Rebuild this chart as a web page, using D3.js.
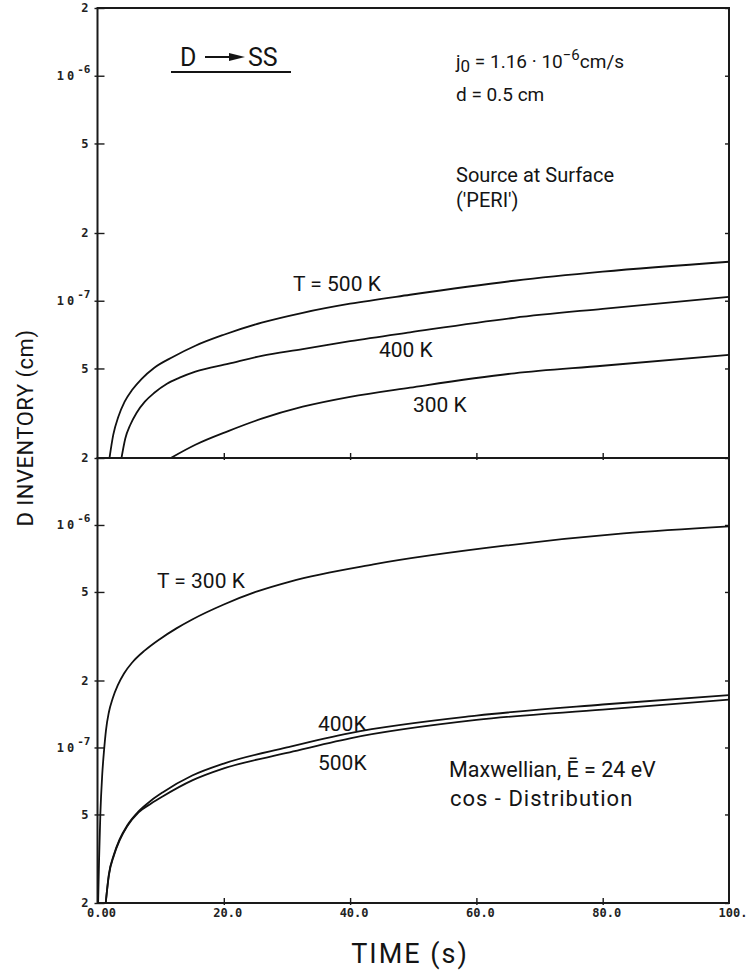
<!DOCTYPE html>
<html>
<head>
<meta charset="utf-8">
<script src="https://cdn.jsdelivr.net/npm/d3@7"></script>
<style>
  body { margin: 0; background: #fff; }
  svg { display: block; }
  .lab { font-family: Roboto, "Liberation Sans", sans-serif; fill: #141414; }
  .tk text { font-family: "DejaVu Sans Mono", monospace; font-weight: bold; font-size: 12px; fill: #222; }
  .tk path { display: none; }
  .tk line { stroke: #1a1a1a; stroke-width: 1.4; }
</style>
</head>
<body>
<svg id="chart"></svg>
<script>
// time axis
const timeTicks = [0, 20, 40, 60, 80, 100];
const timeTickLabels = ['0.00', '20.0', '40.0', '60.0', '80.0', '100.'];
const invTicks = [2e-8, 5e-8, 1e-7, 2e-7, 5e-7, 1e-6, 2e-6];

// upper panel: source at surface ('PERI')
const periTime500 = [1.9, 2.5, 3.3, 4.3, 5.5, 7, 9, 12, 15.5, 20, 26, 32.5, 40, 49.5, 66, 80, 100];
const periInv500 = [2.0e-8, 2.54e-8, 3.05e-8, 3.56e-8, 4.02e-8, 4.50e-8, 5.04e-8, 5.64e-8, 6.31e-8, 7.06e-8, 7.99e-8, 8.84e-8, 9.70e-8, 1.063e-7, 1.227e-7, 1.346e-7, 1.49e-7];
const periTime400 = [3.8, 4.4, 5.2, 6.2, 7.5, 9, 11, 13, 15.5, 20.8, 26, 32.5, 40, 49.5, 66, 80, 100];
const periInv400 = [2.0e-8, 2.44e-8, 2.81e-8, 3.18e-8, 3.56e-8, 3.90e-8, 4.28e-8, 4.55e-8, 4.84e-8, 5.25e-8, 5.69e-8, 6.09e-8, 6.61e-8, 7.24e-8, 8.40e-8, 9.21e-8, 1.04e-7];
const periTime300 = [11.6, 15.5, 20.8, 26, 32.5, 40, 49.5, 66, 80, 100];
const periInv300 = [2.0e-8, 2.29e-8, 2.64e-8, 2.99e-8, 3.38e-8, 3.74e-8, 4.11e-8, 4.76e-8, 5.14e-8, 5.75e-8];

// lower panel: Maxwellian, cos-distribution
const maxTime300 = [0.1, 0.25, 0.45, 0.75, 1.05, 1.35, 1.8, 2.4, 3.2, 4.2, 5.5, 7.5, 9.8, 12.5, 15, 20, 25.3, 30.5, 43.7, 64.8, 83.3, 100];
const maxInv300 = [2.0e-8, 3.14e-8, 5.0e-8, 7.56e-8, 9.8e-8, 1.20e-7, 1.44e-7, 1.66e-7, 1.90e-7, 2.15e-7, 2.41e-7, 2.73e-7, 3.06e-7, 3.43e-7, 3.76e-7, 4.39e-7, 5.03e-7, 5.57e-7, 6.65e-7, 8.09e-7, 9.16e-7, 9.85e-7];
const maxTime400 = [1.3, 1.8, 2.6, 3.5, 4.7, 6.5, 8.5, 10.3, 15, 20, 30, 40, 60, 80, 100];
const maxInv400 = [2.0e-8, 2.69e-8, 3.30e-8, 3.86e-8, 4.46e-8, 5.16e-8, 5.78e-8, 6.28e-8, 7.48e-8, 8.47e-8, 1.0e-7, 1.16e-7, 1.39e-7, 1.56e-7, 1.72e-7];
const maxTime500 = [1.3, 1.8, 2.6, 3.5, 4.7, 6.5, 8.5, 10.3, 15, 20, 30, 40, 60, 80, 100];
const maxInv500 = [2.0e-8, 2.66e-8, 3.27e-8, 3.82e-8, 4.42e-8, 5.11e-8, 5.60e-8, 6.02e-8, 7.11e-8, 8.05e-8, 9.45e-8, 1.10e-7, 1.33e-7, 1.48e-7, 1.64e-7];

const W = 747, H = 974;
const svg = d3.select('#chart').attr('width', W).attr('height', H);
svg.append('rect').attr('width', W).attr('height', H).attr('fill', '#fff');

const left = 97.5, right = 729;
const x = d3.scaleLinear().domain([0, 100]).range([left, right]);

const panels = [
  { top: 8, bottom: 458, series: [[periTime500, periInv500], [periTime400, periInv400], [periTime300, periInv300]] },
  { top: 458, bottom: 903, series: [[maxTime300, maxInv300], [maxTime400, maxInv400], [maxTime500, maxInv500]] }
];

function fmtInv(d) {
  const e = Math.floor(Math.log10(d) + 1e-9);
  const m = Math.round(d / Math.pow(10, e));
  return { m, e };
}

panels.forEach((p, i) => {
  const y = d3.scaleLog().domain([2e-8, 2e-6]).range([p.bottom, p.top]);

  svg.append('clipPath').attr('id', 'clip' + i)
    .append('rect').attr('x', left).attr('y', p.top).attr('width', right - left).attr('height', p.bottom - p.top);

  // left ticks + labels (the 2e-6 of the lower panel sits under the upper panel's 2e-8)
  const vals = i === 0 ? invTicks : invTicks.slice(0, -1);
  const ax = svg.append('g').attr('class', 'tk').attr('transform', `translate(${left},0)`)
    .call(d3.axisLeft(y).tickValues(vals).tickSizeInner(-7).tickSizeOuter(0).tickPadding(10).tickFormat(''));
  ax.selectAll('line').attr('x1', -3);
  ax.selectAll('.tick text').each(function(d) {
    const t = d3.select(this);
    const f = fmtInv(d);
    if (f.m === 1) {
      t.attr('x', -7).text(null);
      t.append('tspan').text('10').attr('letter-spacing', 3);
      t.append('tspan').text(String(f.e)).attr('dy', -7).attr('font-size', 11);
    } else {
      t.attr('x', -9).text(f.m);
    }
  });

  // right ticks
  svg.append('g').attr('class', 'tk').attr('transform', `translate(${right},0)`)
    .call(d3.axisRight(y).tickValues(vals).tickSizeInner(-4).tickSizeOuter(0).tickFormat(''));

  // x ticks on the lower edge of each panel
  const bx = svg.append('g').attr('class', 'tk').attr('transform', `translate(0,${p.bottom})`)
    .call(d3.axisBottom(x).tickValues(timeTicks.slice(1, -1)).tickSizeInner(-5).tickSizeOuter(0).tickFormat(''));
  bx.selectAll('line').attr('y1', 2);

  // frame
  svg.append('rect').attr('x', left).attr('y', p.top).attr('width', right - left).attr('height', p.bottom - p.top)
    .attr('fill', 'none').attr('stroke', '#1a1a1a').attr('stroke-width', 2);

  const line = d3.line()
    .x(d => x(d[0]))
    .y(d => y(d[1]))
    .curve(d3.curveMonotoneX);

  svg.append('g').attr('clip-path', `url(#clip${i})`)
    .selectAll('path')
    .data(p.series)
    .enter()
    .append('path')
    .attr('d', s => line(s[0].map((t, k) => [t, s[1][k]])))
    .attr('fill', 'none')
    .attr('stroke', '#111')
    .attr('stroke-width', 1.8);
});

// x tick labels
svg.append('g').selectAll('text')
  .data(timeTicks)
  .enter()
  .append('text')
  .attr('x', d => x(d) + 4)
  .attr('y', 917)
  .attr('text-anchor', 'middle')
  .attr('font-family', '"DejaVu Sans Mono", monospace')
  .attr('font-weight', 'bold')
  .attr('font-size', 12)
  .attr('fill', '#222')
  .text((d, i) => timeTickLabels[i]);

// axis titles
svg.append('text').attr('class', 'lab')
  .attr('x', 410).attr('y', 963).attr('text-anchor', 'middle')
  .attr('font-size', 27).attr('letter-spacing', 2)
  .text('TIME (s)');

svg.append('text').attr('class', 'lab')
  .attr('transform', 'translate(33,428) rotate(-90)').attr('text-anchor', 'middle')
  .attr('font-size', 22).attr('letter-spacing', 0.5)
  .text('D INVENTORY (cm)');

// upper panel annotations
svg.append('text').attr('class', 'lab').attr('x', 180).attr('y', 66).attr('font-size', 25).text('D');
svg.append('line').attr('x1', 205).attr('x2', 232).attr('y1', 57).attr('y2', 57).attr('stroke', '#141414').attr('stroke-width', 2);
svg.append('path').attr('d', 'M229,53 L245,57 L229,61 Z').attr('fill', '#141414');
svg.append('text').attr('class', 'lab').attr('x', 248).attr('y', 66).attr('font-size', 25).text('SS');
svg.append('line').attr('x1', 171).attr('x2', 291).attr('y1', 72).attr('y2', 72).attr('stroke', '#141414').attr('stroke-width', 1.8);

const j0 = svg.append('text').attr('class', 'lab').attr('x', 456).attr('y', 68).attr('font-size', 19);
j0.append('tspan').text('j');
j0.append('tspan').text('0').attr('dy', 4).attr('font-size', 17);
j0.append('tspan').text('  =  1.16 \u00b7 10').attr('dy', -4);
j0.append('tspan').text('\u22126').attr('dy', -8).attr('font-size', 15);
j0.append('tspan').text('cm/s').attr('dy', 8);

svg.append('text').attr('class', 'lab').attr('x', 456).attr('y', 101).attr('font-size', 19).text('d   =  0.5 cm');
svg.append('text').attr('class', 'lab').attr('x', 456).attr('y', 182).attr('font-size', 20).text('Source at Surface');
svg.append('text').attr('class', 'lab').attr('x', 456).attr('y', 207).attr('font-size', 20).text("('PERI')");

svg.append('text').attr('class', 'lab').attr('x', 293).attr('y', 291).attr('font-size', 21).text('T  =  500 K');
svg.append('text').attr('class', 'lab').attr('x', 379).attr('y', 357).attr('font-size', 21).text('400 K');
svg.append('text').attr('class', 'lab').attr('x', 413).attr('y', 412).attr('font-size', 21).text('300 K');

// lower panel annotations
svg.append('text').attr('class', 'lab').attr('x', 157).attr('y', 588).attr('font-size', 21).text('T  =  300 K');
svg.append('text').attr('class', 'lab').attr('x', 318).attr('y', 731).attr('font-size', 21).text('400K');
svg.append('text').attr('class', 'lab').attr('x', 318).attr('y', 770).attr('font-size', 21).text('500K');
svg.append('text').attr('class', 'lab').attr('x', 449).attr('y', 777).attr('font-size', 21.5).text('Maxwellian, \u0112 = 24 eV');
svg.append('text').attr('class', 'lab').attr('x', 450).attr('y', 806).attr('font-size', 22).attr('letter-spacing', 1).text('cos - Distribution');
</script>
</body>
</html>
